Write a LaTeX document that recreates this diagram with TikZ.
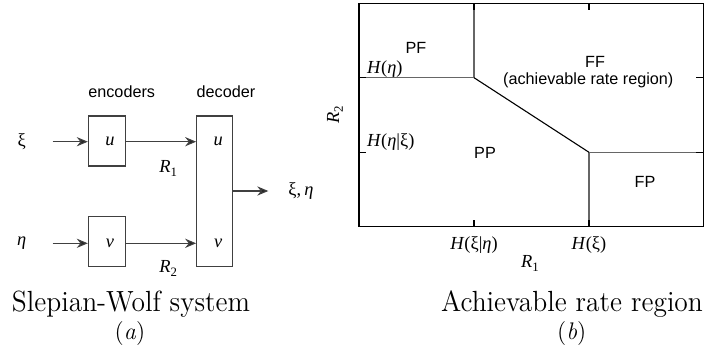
\documentclass[tikz,border=0pt]{standalone}
\usepackage{fontspec}
\usetikzlibrary{arrows.meta}
\newfontfamily\hv{Liberation Sans}
\newfontfamily\tms{Liberation Serif}
\newcommand\lblfont{\hv\fontsize{8.1}{9.7}\selectfont}
\newcommand\mfont{\tms\fontsize{9.2}{11}\selectfont}
\newcommand\sbs[1]{\raisebox{-0.45ex}{\fontsize{6.4}{7}\selectfont #1}}
\begin{document}
\begin{tikzpicture}[x=0.5pt,y=-0.5pt,
  lbl/.style={font=\lblfont, inner sep=0pt},
  mlbl/.style={font=\mfont, inner sep=0pt},
  captxt/.style={font=\fontsize{13.75}{15}\selectfont, inner sep=0pt, anchor=base, yscale=1.06},
  subcap/.style={font=\fontsize{12}{14}\selectfont, inner sep=0pt, anchor=base},
  blk/.style={draw=black!75, line width=0.55pt, inner sep=0pt},
  arr/.style={draw=black!75, line width=0.55pt, -{Stealth[length=5.5pt,width=4.6pt,inset=1.8pt,fill=black!85]}},
  framebox/.style={draw=black, line width=0.65pt},
  innerln/.style={draw=black!60, line width=0.55pt},
  diagln/.style={draw=black, line width=0.55pt},
  tickln/.style={draw=black, line width=0.8pt}]
\useasboundingbox (0,0) rectangle (711,353);

% ---------- (a) Slepian-Wolf system ----------
\node[lbl] (encl) at (121.7,91.7) {encoders};
\node[lbl] (decl) at (226,91.7) {decoder};

\node[blk, minimum width=18.35pt, minimum height=25pt] (eu) at (106.7,141) {};
\node[blk, minimum width=18.35pt, minimum height=25pt] (ev) at (106.7,241.7) {};
\node[blk, minimum width=17.8pt, minimum height=75.35pt] (db) at (214.5,191.3) {};

\node[mlbl] (ul) at (110,141.7) {\itshape u};
\node[mlbl] (vl) at (110,243.3) {\itshape v};
\node[mlbl] (du) at (218.3,141.7) {\itshape u};
\node[mlbl] (dv) at (218.3,243.3) {\itshape v};

\node[mlbl] (xi) at (21.7,141.7) {ξ};
\node[mlbl] (eta) at (21.7,243.3) {\itshape η};
\coordinate (xis) at (52.7,141.7);
\coordinate (etas) at (52.7,243.3);
\coordinate (outend) at (268.3,191);
\node[mlbl, anchor=west] (out) at (288,191) {ξ,\,\textit{η}};

\draw[arr] (xis) -- (xis -| eu.west);
\draw[arr] (etas) -- (etas -| ev.west);
\draw[arr] (xis -| eu.east) -- (xis -| db.west);
\draw[arr] (etas -| ev.east) -- (etas -| db.west);
\draw[arr] (outend -| db.east) -- (outend);

\node[mlbl] (r1a) at (168.3,168.3) {\textit{R}\sbs{1}};
\node[mlbl] (r2a) at (168.3,268.3) {\textit{R}\sbs{2}};

\node[captxt] (capa) at (131,311.5) {Slepian-Wolf system};
\node[subcap] (suba) at (130,339) {(\textit{a})};

% ---------- (b) Achievable rate region ----------
\coordinate (bl) at (359,226.7);
\coordinate (tr) at (703.3,3.3);
\coordinate (ca) at (474,77.7);
\coordinate (cb) at (589,152.3);

\draw[innerln] (ca |- tr) -- (ca);
\draw[innerln] (ca) -- (ca -| bl);
\draw[innerln] (cb) -- (cb -| tr);
\draw[innerln] (cb) -- (cb |- bl);
\draw[diagln] (ca) -- (cb);

% ticks (inward)
\draw[tickln] (ca |- tr) -- ++(0,7);
\draw[tickln] (cb |- tr) -- ++(0,7);
\draw[tickln] (ca |- bl) -- ++(0,-7);
\draw[tickln] (cb |- bl) -- ++(0,-7);
\draw[tickln] (ca -| bl) -- ++(7,0);
\draw[tickln] (cb -| bl) -- ++(7,0);
\draw[tickln] (ca -| tr) -- ++(-7,0);
\draw[tickln] (cb -| tr) -- ++(-7,0);

\draw[framebox] (bl) rectangle (tr);

\node[lbl] (pf) at (416,48.3) {PF};
\node[lbl] (ff) at (595,61.7) {FF};
\node[lbl] (ffs) at (588.3,80) {(achievable rate region)};
\node[lbl] (pp) at (485,153.3) {PP};
\node[lbl] (fp) at (645,181.7) {FP};

\node[mlbl, anchor=west] (heta) at (366.7,69) {\textit{H}(\textit{η})};
\node[mlbl, anchor=west] (hetaxi) at (366.7,141.7) {\textit{H}(\textit{η}|ξ)};
\node[mlbl] (hxieta) at (474,245) {\textit{H}(ξ|\textit{η})};
\node[mlbl] (hxi) at (589,245) {\textit{H}(ξ)};
\node[mlbl] (r1b) at (530,263.3) {\textit{R}\sbs{1}};
\node[mlbl, rotate=90] (r2b) at (335,115) {\textit{R}\sbs{2}};

\node[captxt] (capb) at (572,311.5) {Achievable rate region};
\node[subcap] (subb) at (571.7,339) {(\textit{b})};
\end{tikzpicture}
\end{document}
